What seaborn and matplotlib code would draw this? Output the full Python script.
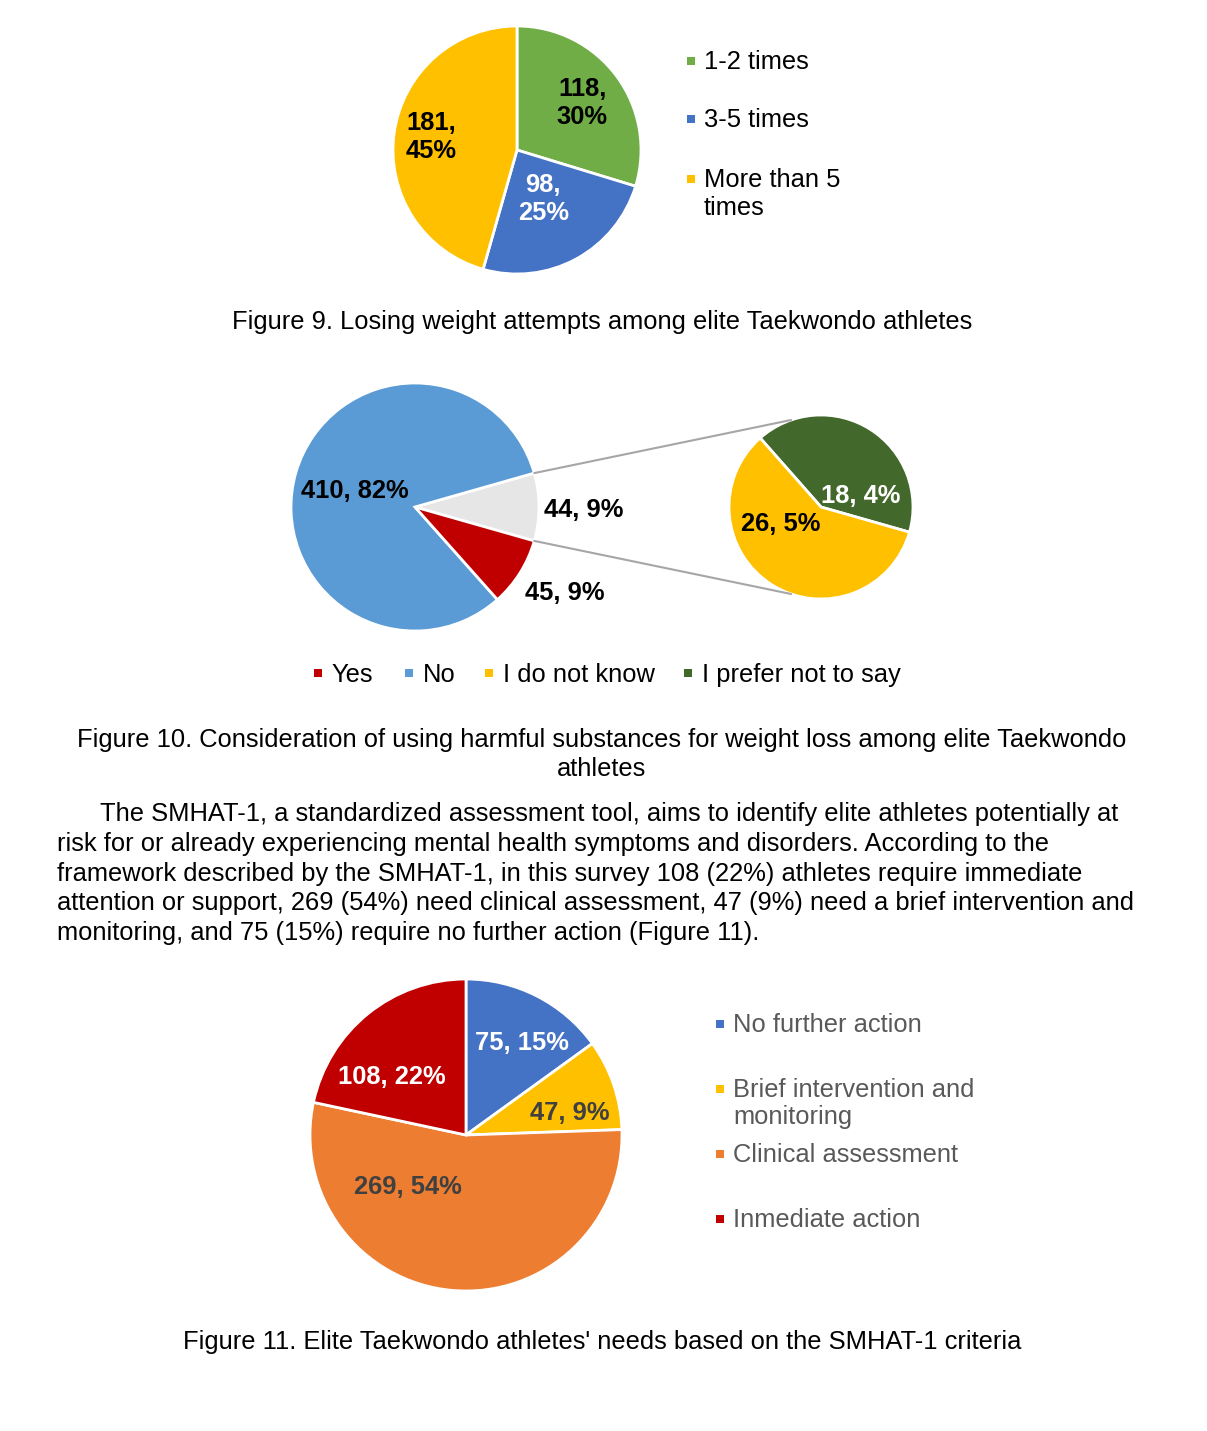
import numpy as np
import matplotlib
matplotlib.use('Agg')
import matplotlib.pyplot as plt
from matplotlib.patches import Rectangle, ConnectionPatch
import seaborn as sns

# Figure 9 - losing weight attempts
attempts = ['1-2 times', '3-5 times', 'More than 5\ntimes']
attempt_counts = [118, 98, 181]
attempt_pcts = [30, 25, 45]
attempt_colors = ['#70AD47', '#4472C4', '#FFC000']

# Figure 10 - harmful substances
answers = ['Yes', 'No', 'I do not know', 'I prefer not to say']
answer_counts = [45, 410, 26, 18]
answer_pcts = [9, 82, 5, 4]
other_pct = 9
answer_colors = ['#C00000', '#5B9BD5', '#FFC000', '#43682B']
other_color = '#E7E6E6'

# Figure 11 - SMHAT-1 needs
needs = ['No further action', 'Brief intervention and\nmonitoring',
         'Clinical assessment', 'Inmediate action']
need_counts = [75, 47, 269, 108]
need_pcts = [15, 9, 54, 22]
need_colors = ['#4472C4', '#FFC000', '#ED7D31', '#C00000']

paragraph = [
    'The SMHAT-1, a standardized assessment tool, aims to identify elite athletes potentially at',
    'risk for or already experiencing mental health symptoms and disorders. According to the',
    'framework described by the SMHAT-1, in this survey 108 (22%) athletes require immediate',
    'attention or support, 269 (54%) need clinical assessment, 47 (9%) need a brief intervention and',
    'monitoring, and 75 (15%) require no further action (Figure 11).',
]

sns.set_theme(style='white')
plt.rcParams['font.family'] = ['Liberation Sans', 'DejaVu Sans']
plt.rcParams['text.color'] = 'black'

W, H = 1207, 1431
fig = plt.figure(figsize=(W / 100, H / 100), dpi=100)
fig.patch.set_facecolor('white')
FS = 18.4


def fx(x):
    return x / W


def fy(y):
    return 1 - y / H


def pie_axes(cx, cy, r, pad=1.05):
    ax = fig.add_axes([(cx - r * pad) / W, 1 - (cy + r * pad) / H,
                       2 * r * pad / W, 2 * r * pad / H])
    return ax, pad


def finish(ax, pad):
    ax.set_xlim(-pad, pad)
    ax.set_ylim(-pad, pad)
    ax.set_aspect('equal')
    ax.axis('off')


def put(ax, dist, ang, txt, color):
    a = np.deg2rad(ang)
    ax.text(dist * np.cos(a), dist * np.sin(a), txt, ha='center', va='center',
            fontsize=FS, fontweight='bold', color=color, linespacing=1.22)


def legend_rows(labels, colors, xm, xt, baselines, tcolor, step=28):
    for lab, col, yb in zip(labels, colors, baselines):
        fig.add_artist(Rectangle((fx(xm - 4), fy(yb - 4)), 8 / W, 8 / H,
                                 transform=fig.transFigure, color=col, lw=0))
        for k, part in enumerate(lab.split('\n')):
            fig.text(fx(xt), fy(yb + k * step), part, fontsize=FS, color=tcolor,
                     ha='left', va='baseline')


# ---------- Figure 9 ----------
ax1, p1 = pie_axes(517, 150, 124)
w1, _ = ax1.pie(attempt_counts, colors=attempt_colors, startangle=90, counterclock=False,
                wedgeprops=dict(edgecolor='white', linewidth=2))
finish(ax1, p1)
for w, c, p, d, tc in zip(w1, attempt_counts, attempt_pcts, [0.65, 0.45, 0.70],
                          ['black', 'white', 'black']):
    put(ax1, d, (w.theta1 + w.theta2) / 2 - 0.5, f'{c},\n{p}%', tc)
legend_rows(attempts, attempt_colors, 691, 704, [69, 127, 187], 'black')
fig.text(fx(602), fy(329), 'Figure 9. Losing weight attempts among elite Taekwondo athletes',
         fontsize=FS, ha='center', va='baseline')

# ---------- Figure 10 ----------
total2 = sum(answer_counts)
other_count = answer_counts[2] + answer_counts[3]
start2 = -other_count / total2 * 180
ax2, p2 = pie_axes(415, 507, 124)
w2, _ = ax2.pie([other_count, answer_counts[1], answer_counts[0]],
                colors=[other_color, answer_colors[1], answer_colors[0]],
                startangle=start2, wedgeprops=dict(edgecolor='white', linewidth=2))
finish(ax2, p2)
mid = [(w.theta1 + w.theta2) / 2 for w in w2]
put(ax2, 1.36, mid[0] - 1, f'{other_count}, {other_pct}%', 'black')
put(ax2, 0.50, mid[1] + 1, f'{answer_counts[1]}, {answer_pcts[1]}%', 'black')
put(ax2, 1.39, mid[2] + 2.2, f'{answer_counts[0]}, {answer_pcts[0]}%', 'black')

ax3, p3 = pie_axes(821, 507, 92)
w3, _ = ax3.pie([answer_counts[3], answer_counts[2]],
                colors=[answer_colors[3], answer_colors[2]],
                startangle=start2, wedgeprops=dict(edgecolor='white', linewidth=2))
finish(ax3, p3)
put(ax3, 0.45, 16, f'{answer_counts[3]}, {answer_pcts[3]}%', 'white')
put(ax3, 0.48, 203, f'{answer_counts[2]}, {answer_pcts[2]}%', 'black')

for ta, tb in [(w2[0].theta2, 109), (w2[0].theta1, -109)]:
    a, b = np.deg2rad(ta), np.deg2rad(tb)
    con = ConnectionPatch(xyA=(np.cos(a), np.sin(a)), coordsA=ax2.transData,
                          xyB=(np.cos(b), np.sin(b)), coordsB=ax3.transData,
                          color='#A6A6A6', lw=1.5)
    fig.add_artist(con)

for lab, col, xm in zip(answers, answer_colors, [318, 409, 489, 688]):
    fig.add_artist(Rectangle((fx(xm - 4), fy(682 - 5)), 8 / W, 8 / H,
                             transform=fig.transFigure, color=col, lw=0))
    fig.text(fx(xm + 14), fy(682), lab, fontsize=FS, ha='left', va='baseline')

fig.text(fx(602), fy(747),
         'Figure 10. Consideration of using harmful substances for weight loss among elite Taekwondo',
         fontsize=FS, ha='center', va='baseline')
fig.text(fx(602), fy(776.5), 'athletes', fontsize=FS, ha='center', va='baseline')

# ---------- paragraph ----------
for i, line in enumerate(paragraph):
    fig.text(fx(100 if i == 0 else 57), fy(821 + i * 29.75), line,
             fontsize=FS, ha='left', va='baseline')

# ---------- Figure 11 ----------
ax4, p4 = pie_axes(466, 1135, 156)
w4, _ = ax4.pie(need_counts, colors=need_colors, startangle=90, counterclock=False,
                wedgeprops=dict(edgecolor='white', linewidth=2))
finish(ax4, p4)
label_pos = [(0.69, 59), (0.68, 12), (0.50, 222), (0.60, 142)]
for c, p, (d, ang), tc in zip(need_counts, need_pcts, label_pos,
                              ['white', '#404040', '#404040', 'white']):
    put(ax4, d, ang, f'{c}, {p}%', tc)
legend_rows(needs, need_colors, 720, 733, [1032, 1097, 1162, 1227], '#595959', step=27)
fig.text(fx(602), fy(1349), "Figure 11. Elite Taekwondo athletes' needs based on the SMHAT-1 criteria",
         fontsize=FS, ha='center', va='baseline')

fig.savefig('out.png', dpi=100, facecolor='white')
